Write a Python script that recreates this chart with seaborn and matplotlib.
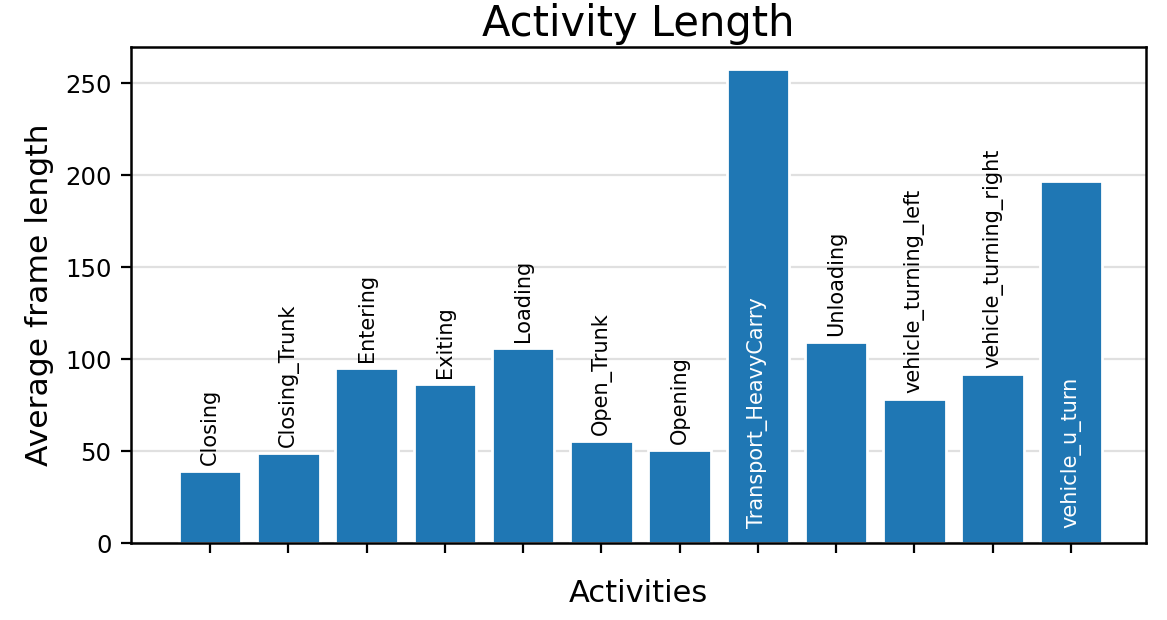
import matplotlib
matplotlib.use("Agg")
import matplotlib.pyplot as plt
import seaborn as sns
import pandas as pd

activities = ["Closing", "Closing_Trunk", "Entering", "Exiting", "Loading",
              "Open_Trunk", "Opening", "Transport_HeavyCarry", "Unloading",
              "vehicle_turning_left", "vehicle_turning_right", "vehicle_u_turn"]
avg_length = [39.3, 49.2, 95.4, 86.7, 106.3, 55.7, 50.8, 257.5, 109.5, 78.6, 92.1, 197.0]

df = pd.DataFrame({"activity": activities, "length": avg_length})

sns.set_style("white")
plt.rcParams['font.family'] = ['DejaVu Sans']
plt.rcParams['text.color'] = 'black'
plt.rcParams['axes.labelcolor'] = 'black'
plt.rcParams['xtick.color'] = 'black'
plt.rcParams['ytick.color'] = 'black'

fig = plt.figure(figsize=(5.835, 3.1), dpi=200)
ax = fig.add_axes([0.1123, 0.124, 0.8697, 0.8])

sns.barplot(data=df, x="activity", y="length", color="#1f77b4", saturation=1,
            width=0.8, ax=ax, zorder=2)

# labels above bars, or inside the bar for the tall ones
for i, (name, val) in enumerate(zip(activities, avg_length)):
    if val > 150:
        ax.text(i, 8, name, rotation=90, ha="center", va="bottom",
                color="white", fontsize=7.5, zorder=3)
    else:
        ax.text(i, val + 3, name, rotation=90, ha="center", va="bottom",
                color="black", fontsize=7.5, zorder=3)

ax.set_xlim(-1.01, 11.96)
ax.set_ylim(0, 269.6)
ax.set_yticks([0, 50, 100, 150, 200, 250])
ax.set_xticks(range(len(activities)))
ax.set_xticklabels([])
ax.tick_params(axis="both", direction="out", length=3.5, width=0.8,
               color="black", labelcolor="black", labelsize=8.8,
               bottom=True, left=True)
ax.yaxis.grid(True, color="#e0e0e0", linewidth=0.8, zorder=0)
ax.set_axisbelow(True)
for s in ax.spines.values():
    s.set_color("black")
    s.set_linewidth(0.9)

ax.set_xlabel("Activities", fontsize=11, labelpad=6, color="black")
ax.set_ylabel("Average frame length", fontsize=11.3, labelpad=4, color="black")
ax.set_title("Activity Length", fontsize=15, pad=4, color="black")

fig.savefig("out.png", dpi=200)
